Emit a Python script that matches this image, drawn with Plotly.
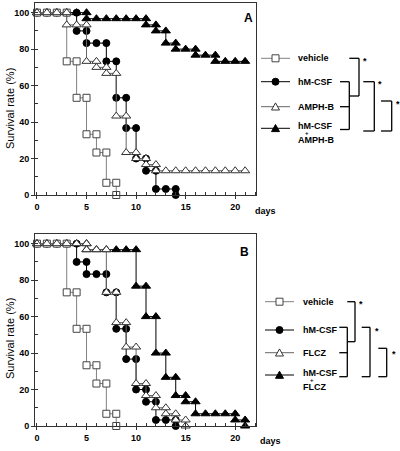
import plotly.graph_objects as go

days = list(range(22))

# Panel A: survival rate (%) by day
vehicle_a = [100, 100, 100, 73.3, 53.3, 33.3, 23.3, 6.7, 0]
hmcsf_a = [100, 100, 100, 100, 90, 83.3, 83.3, 73.3, 53.3, 36.7, 20, 13.3, 3.3, 3.3, 0]
amphb_a = [100, 100, 100, 93.3, 93.3, 73.3, 70, 66.7, 43.3, 23.3, 20, 16.7,
           13.3, 13.3, 13.3, 13.3, 13.3, 13.3, 13.3, 13.3, 13.3, 13.3]
combo_a = [100, 100, 100, 100, 100, 96.7, 96.7, 96.7, 96.7, 96.7, 96.7,
           93.3, 90, 83.3, 80, 80, 76.7, 76.7, 73.3, 73.3, 73.3, 73.3]

# Panel B: survival rate (%) by day
vehicle_b = [100, 100, 100, 73.3, 53.3, 33.3, 23.3, 6.7, 0]
hmcsf_b = [100, 100, 100, 100, 90, 83.3, 83.3, 73.3, 53.3, 36.7, 20, 13.3, 3.3, 3.3, 0]
flcz_b = [100, 100, 100, 100, 100, 96.7, 96.7, 73.3, 56.7, 43.3, 23.3, 16.7, 10, 6.7, 3.3, 0]
combo_b = [100, 100, 100, 100, 100, 96.7, 96.7, 96.7, 96.7, 96.7, 76.7, 60, 40,
           26.7, 16.7, 13.3, 6.7, 6.7, 6.7, 6.7, 3.3, 0]

x_ticks = [0, 5, 10, 15, 20]
y_ticks = [0, 20, 40, 60, 80, 100]
legend_a = ["vehicle", "hM-CSF", "AMPH-B", "hM-CSF", "AMPH-B"]
legend_b = ["vehicle", "hM-CSF", "FLCZ", "hM-CSF", "FLCZ"]

W, H = 400, 451
ML, MR, MT, MB = 35, 144, 3, 25
PW, PH = W - ML - MR, H - MT - MB


def px(x):
    return (x - ML) / PW


def py(y):
    return (H - MB - y) / PH


def steps(vals):
    xs, ys = [], []
    for d, v in zip(days, vals):
        if d > 0 and v != vals[d - 1]:
            xs.append(d)
            ys.append(vals[d - 1])
        xs.append(d)
        ys.append(v)
    return xs, ys


STY = {
    "vehicle": dict(line="#808080", sym="square", fill="white", edge="#444", size=7),
    "hmcsf": dict(line="black", sym="circle", fill="black", edge="black", size=7),
    "open": dict(line="#666", sym="triangle-up", fill="white", edge="#333", size=8),
    "combo": dict(line="black", sym="triangle-up", fill="black", edge="black", size=8),
}

fig = go.Figure()


def add(vals, style, xa, ya, name):
    s = STY[style]
    xs, ys = steps(vals)
    fig.add_trace(go.Scatter(
        x=xs, y=ys, mode="lines+markers", name=name, xaxis=xa, yaxis=ya,
        line=dict(color=s["line"], width=1),
        marker=dict(symbol=s["sym"], size=s["size"], color=s["fill"],
                    line=dict(color=s["edge"], width=1)),
        cliponaxis=False, showlegend=False))


# draw order: filled first, open markers on top
add(combo_a, "combo", "x", "y", "hM-CSF + AMPH-B")
add(hmcsf_a, "hmcsf", "x", "y", "hM-CSF")
add(vehicle_a, "vehicle", "x", "y", "vehicle")
add(amphb_a, "open", "x", "y", "AMPH-B")

add(combo_b, "combo", "x2", "y2", "hM-CSF + FLCZ")
add(hmcsf_b, "hmcsf", "x2", "y2", "hM-CSF")
add(vehicle_b, "vehicle", "x2", "y2", "vehicle")
add(flcz_b, "open", "x2", "y2", "FLCZ")

tickfont = dict(size=9, family="Liberation Sans, Arial", color="black", weight="bold")
xcommon = dict(range=[-0.2, 22.1], tickvals=x_ticks, ticks="outside", ticklen=3,
               tickcolor="#333", minor=dict(dtick=1, ticks="inside", ticklen=3, tickcolor="#333"),
               showline=True, mirror=True, linecolor="#333", linewidth=1,
               showgrid=False, zeroline=False, tickfont=tickfont, domain=[0, 1])
ycommon = dict(range=[0, 105.3], tickvals=y_ticks, ticks="outside", ticklen=3,
               tickcolor="#333", minor=dict(dtick=10, ticks="inside", ticklen=3, tickcolor="#333"),
               showline=True, mirror=True, linecolor="#333", linewidth=1,
               showgrid=False, zeroline=False, tickfont=tickfont)

fig.update_layout(
    width=W, height=H, margin=dict(l=ML, r=MR, t=MT, b=MB),
    plot_bgcolor="white", paper_bgcolor="white", showlegend=False,
    font=dict(family="Liberation Sans, Arial", color="black"),
    xaxis=dict(anchor="y", **xcommon),
    yaxis=dict(anchor="x", domain=[py(195), 1.0], **ycommon),
    xaxis2=dict(anchor="y2", **xcommon),
    yaxis2=dict(anchor="x2", domain=[0.0, py(234)], **ycommon),
)

ann = []
shapes = []


def text(x, y, t, size=9, bold=True, xanchor="left", angle=0):
    f = dict(family="Liberation Sans, Arial", size=size, color="black",
             weight="bold" if bold else "normal")
    ann.append(dict(x=px(x), y=py(y), xref="paper", yref="paper", text=t,
                    showarrow=False, xanchor=xanchor, yanchor="middle",
                    font=f, textangle=angle))


def seg(x0, y0, x1, y1, color="black", w=1.3):
    shapes.append(dict(type="line", xref="paper", yref="paper",
                       x0=px(x0), y0=py(y0), x1=px(x1), y1=py(y1),
                       line=dict(color=color, width=w)))


def marker(style, x, y):
    s = STY[style]
    r = 3.5
    line = dict(color=s["edge"], width=1)
    if s["sym"] == "square":
        shapes.append(dict(type="rect", xref="paper", yref="paper",
                           x0=px(x - r), x1=px(x + r), y0=py(y + r), y1=py(y - r),
                           fillcolor=s["fill"], line=line))
    elif s["sym"] == "circle":
        shapes.append(dict(type="circle", xref="paper", yref="paper",
                           x0=px(x - r), x1=px(x + r), y0=py(y + r), y1=py(y - r),
                           fillcolor=s["fill"], line=line))
    else:
        path = "M {},{} L {},{} L {},{} Z".format(
            px(x - 4), py(y + 3.3), px(x + 4), py(y + 3.3), px(x), py(y - 3.8))
        shapes.append(dict(type="path", xref="paper", yref="paper", path=path,
                           fillcolor=s["fill"], line=line))


def legend_block(ys, lx0, lx1, tx, labels):
    styles = ["vehicle", "hmcsf", "open", "combo"]
    for st, yy in zip(styles, ys):
        seg(lx0, yy, lx1, yy, color=STY[st]["line"], w=1)
        marker(st, (lx0 + lx1) / 2, yy)
    text(tx, ys[0], labels[0])
    text(tx, ys[1], labels[1])
    text(tx, ys[2], labels[2])
    text(tx, ys[3] - 2.5, labels[3])
    text(tx + 7, ys[3] + 5, "+", size=6)
    text(tx, ys[3] + 11.5, labels[4])


# Panel A legend
yA = [58.3, 81.7, 106.7, 128.3]
legend_block(yA, 261, 290, 296, legend_a)
# brackets A
seg(340, 81.7, 349.3, 81.7); seg(349.3, 81.7, 349.3, 129.5); seg(340, 129.5, 349.3, 129.5)
seg(340, 106.7, 349.3, 106.7)
seg(349.3, 58.3, 359, 58.3); seg(359, 58.3, 359, 96); seg(349.3, 96, 359, 96)
seg(363.3, 81.7, 374.3, 81.7); seg(374.3, 81.7, 374.3, 131); seg(363.3, 131, 374.3, 131)
seg(381, 101, 391.7, 101); seg(391.7, 101, 391.7, 131); seg(381, 131, 391.7, 131)
text(361, 61, "*", size=9)
text(376, 84, "*", size=9)
text(393.5, 104, "*", size=9)

# Panel B legend
yB = [301.7, 330, 352.7, 375]
legend_block(yB, 265, 294, 301, legend_b)
seg(339.3, 327.3, 347.3, 327.3); seg(347.3, 327.3, 347.3, 376.7); seg(339.3, 376.7, 347.3, 376.7)
seg(339.3, 352.7, 347.3, 352.7)
seg(347.3, 301.7, 355, 301.7); seg(355, 301.7, 355, 341.7); seg(347.3, 341.7, 355, 341.7)
seg(361.7, 327.3, 370, 327.3); seg(370, 327.3, 370, 376.7); seg(361.7, 376.7, 370, 376.7)
seg(378.3, 348.3, 386.7, 348.3); seg(386.7, 348.3, 386.7, 376.7); seg(378.3, 376.7, 386.7, 376.7)
text(357, 304, "*", size=9)
text(372.5, 331, "*", size=9)
text(389.5, 354, "*", size=9)

# panel letters, axis titles, days
text(242, 18, "A", size=12)
text(238, 252, "B", size=12)
text(10, 109, "Survival rate (%)", size=11, bold=False, xanchor="center", angle=-90)
text(10, 339, "Survival rate (%)", size=11, bold=False, xanchor="center", angle=-90)
text(253, 211, "days", size=9)
text(258, 441, "days", size=9)

fig.update_layout(annotations=ann, shapes=shapes)
fig.write_html("out.html", config={"displayModeBar": False},
               post_script="document.body.style.margin='0px';document.body.style.overflow='hidden';")
